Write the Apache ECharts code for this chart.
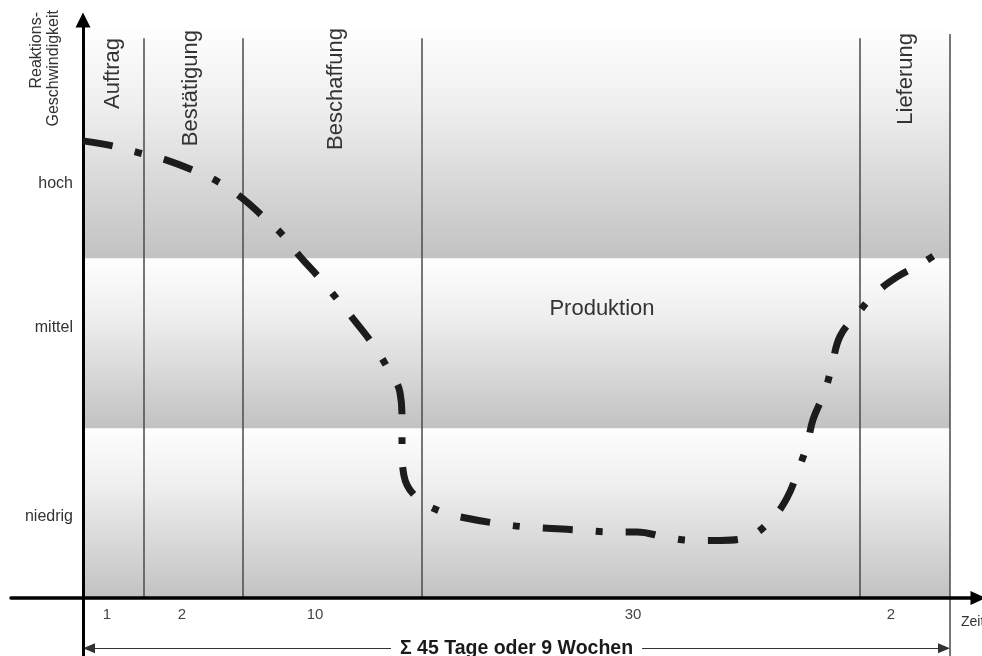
<!DOCTYPE html>
<html><head><meta charset="utf-8">
<script src="https://cdn.jsdelivr.net/npm/echarts@6/dist/echarts.min.js"></script>
<style>html,body{margin:0;padding:0;background:#fff}#c{width:982px;height:656px}</style>
</head><body><div id="c"></div>
<script>
// ---- data ----
const phaseNames = ['Auftrag', 'Bestätigung', 'Beschaffung', 'Produktion', 'Lieferung'];
const phaseDays = ['1', '2', '10', '30', '2'];
const phaseBounds = [0, 61, 160, 339, 777, 867];      // phase borders on the time axis (schematic units)
const dayLabelPos = [24, 99, 232, 550, 808];          // where the day counts sit on the time axis
const levelNames = ['niedrig', 'mittel', 'hoch'];
const levelLabelPos = [0.48, 1.59, 2.44];
const bandEdges = [0, 1, 2, 3.35];
const curveX = [0, 30, 56, 82, 109, 135, 160, 179, 199, 217, 237, 254, 272, 289, 304, 317, 319, 319, 321, 334,
  358, 384, 414, 441, 469, 499, 526, 554, 582, 610, 637, 665, 688, 704, 715, 724, 730, 742, 749, 757, 774, 792, 814, 839, 867];
const curveY = [2.69, 2.66, 2.62, 2.58, 2.52, 2.45, 2.35, 2.25, 2.14, 2.01, 1.88, 1.76, 1.63, 1.50, 1.36, 1.21, 1.05, 0.89, 0.72, 0.59,
  0.51, 0.47, 0.44, 0.42, 0.41, 0.40, 0.39, 0.39, 0.36, 0.34, 0.34, 0.36, 0.46, 0.59, 0.75, 0.90, 1.05, 1.22, 1.37, 1.54, 1.67, 1.79, 1.89, 1.97, 2.08];
const totalLabel = 'Σ 45 Tage oder 9 Wochen';
const xName = 'Zeit';
const yName = ['Reaktions-', 'Geschwindigkeit'];

// ---- chart ----
const FONT = '"Liberation Sans", Arial, Helvetica, sans-serif';
const chart = echarts.init(document.getElementById('c'), null, {renderer: 'canvas'});
const dayMap = {}; dayLabelPos.forEach((p, i) => dayMap[p] = phaseDays[i]);
const levelMap = {}; levelLabelPos.forEach((p, i) => levelMap[p] = levelNames[i]);

function bandGrad() {
  return {type: 'linear', x: 0, y: 0, x2: 0, y2: 1,
    colorStops: [{offset: 0, color: '#fefefe'}, {offset: 0.35, color: '#eeeeee'}, {offset: 1, color: '#c2c2c2'}]};
}
const bands = [];
for (let i = 0; i < bandEdges.length - 1; i++) {
  bands.push([{xAxis: phaseBounds[0], yAxis: bandEdges[i], itemStyle: {color: bandGrad()}},
              {xAxis: phaseBounds[phaseBounds.length - 1], yAxis: bandEdges[i + 1]}]);
}
const vLines = [];
for (let i = 1; i < phaseBounds.length; i++) {
  const last = i === phaseBounds.length - 1;
  vLines.push([{coord: [phaseBounds[i], last ? -0.34 : 0]}, {coord: [phaseBounds[i], last ? 3.318 : 3.294]}]);
}

const option = {
  animation: false,
  backgroundColor: '#fff',
  grid: [
    {left: 83, right: 4, top: 20, bottom: 0, outerBoundsMode: 'none', containLabel: false},
    {left: 11, right: 4, top: 20, bottom: 58, outerBoundsMode: 'none', containLabel: false}
  ],
  xAxis: [
    {gridIndex: 0, type: 'value', min: 0, max: 895,
      axisLine: {show: false}, axisTick: {show: false}, splitLine: {show: false}, axisLabel: {show: false}},
    {gridIndex: 1, type: 'value', min: -72, max: 895, z: 8,
      name: xName, nameLocation: 'end', nameGap: -17,
      nameTextStyle: {fontFamily: FONT, fontSize: 14, color: '#333', align: 'left', verticalAlign: 'top', padding: [17, 0, 0, 0]},
      axisLine: {onZero: false, symbol: ['none', 'triangle'], symbolSize: [14, 15], lineStyle: {color: '#000', width: 3.5}},
      axisTick: {show: false}, splitLine: {show: false},
      axisLabel: {customValues: dayLabelPos, formatter: v => dayMap[v] || '', fontFamily: FONT, fontSize: 15, color: '#444', margin: 9}}
  ],
  yAxis: [
    {gridIndex: 0, type: 'value', min: -0.34, max: 3.401, z: 8,
      axisLine: {onZero: false, symbol: ['none', 'triangle'], symbolSize: [15, 15], lineStyle: {color: '#000', width: 3}},
      axisTick: {show: false}, splitLine: {show: false},
      axisLabel: {customValues: levelLabelPos, formatter: v => levelMap[v] || '', fontFamily: FONT, fontSize: 16, color: '#333', margin: 10}},
    {gridIndex: 1, type: 'value', min: 0, max: 3.401,
      axisLine: {show: false}, axisTick: {show: false}, splitLine: {show: false}, axisLabel: {show: false}}
  ],
  series: [
    {
      type: 'scatter', xAxisIndex: 0, yAxisIndex: 0, data: [], silent: true, z: 1,
      markArea: {silent: true, data: bands},
      markLine: {silent: true, symbol: ['none', 'none'], label: {show: false},
        lineStyle: {color: '#4a4a4a', width: 1.5, type: 'solid'}, emphasis: {disabled: true}, data: vLines}
    },
    {
      type: 'scatter', xAxisIndex: 0, yAxisIndex: 0, data: [], silent: true, z: 2,
      markLine: {silent: true, symbol: ['triangle', 'triangle'], symbolSize: [10, 12],
        lineStyle: {color: '#333', width: 1, type: 'solid'}, emphasis: {disabled: true},
        label: {show: true, position: 'middle', formatter: totalLabel, distance: 0, verticalAlign: 'middle',
          fontFamily: FONT, fontWeight: 'bold', fontSize: 19.5, color: '#1a1a1a', backgroundColor: '#fff', padding: [0, 9]},
        data: [[{coord: [phaseBounds[0] + 6, -0.294]}, {coord: [phaseBounds[phaseBounds.length - 1] - 6, -0.294]}]]}
    },
    {
      type: 'line', xAxisIndex: 0, yAxisIndex: 0, z: 10, silent: true, smooth: 0.4, showSymbol: false,
      data: curveX.map((x, i) => [x, curveY[i]]),
      lineStyle: {color: '#1c1c1c', width: 7, type: [30, 23, 7, 23], cap: 'butt'}
    }
  ],
  graphic: [
    {type: 'text', x: 113, y: 38, rotation: Math.PI / 2, z: 20, style: {text: phaseNames[0], font: '22px ' + FONT, fill: '#333', align: 'right', verticalAlign: 'middle'}},
    {type: 'text', x: 191, y: 30, rotation: Math.PI / 2, z: 20, style: {text: phaseNames[1], font: '22px ' + FONT, fill: '#333', align: 'right', verticalAlign: 'middle'}},
    {type: 'text', x: 336, y: 28, rotation: Math.PI / 2, z: 20, style: {text: phaseNames[2], font: '22px ' + FONT, fill: '#333', align: 'right', verticalAlign: 'middle'}},
    {type: 'text', x: 602, y: 309, z: 20, style: {text: phaseNames[3], font: '22px ' + FONT, fill: '#333', align: 'center', verticalAlign: 'middle'}},
    {type: 'text', x: 906, y: 33, rotation: Math.PI / 2, z: 20, style: {text: phaseNames[4], font: '22px ' + FONT, fill: '#333', align: 'right', verticalAlign: 'middle'}},
    {type: 'text', x: 37, y: 12, rotation: Math.PI / 2, z: 20, style: {text: yName[0], font: '16px ' + FONT, fill: '#333', align: 'right', verticalAlign: 'middle'}},
    {type: 'text', x: 54, y: 10, rotation: Math.PI / 2, z: 20, style: {text: yName[1], font: '16px ' + FONT, fill: '#333', align: 'right', verticalAlign: 'middle'}}
  ]
};
chart.setOption(option);
</script>
</body></html>
